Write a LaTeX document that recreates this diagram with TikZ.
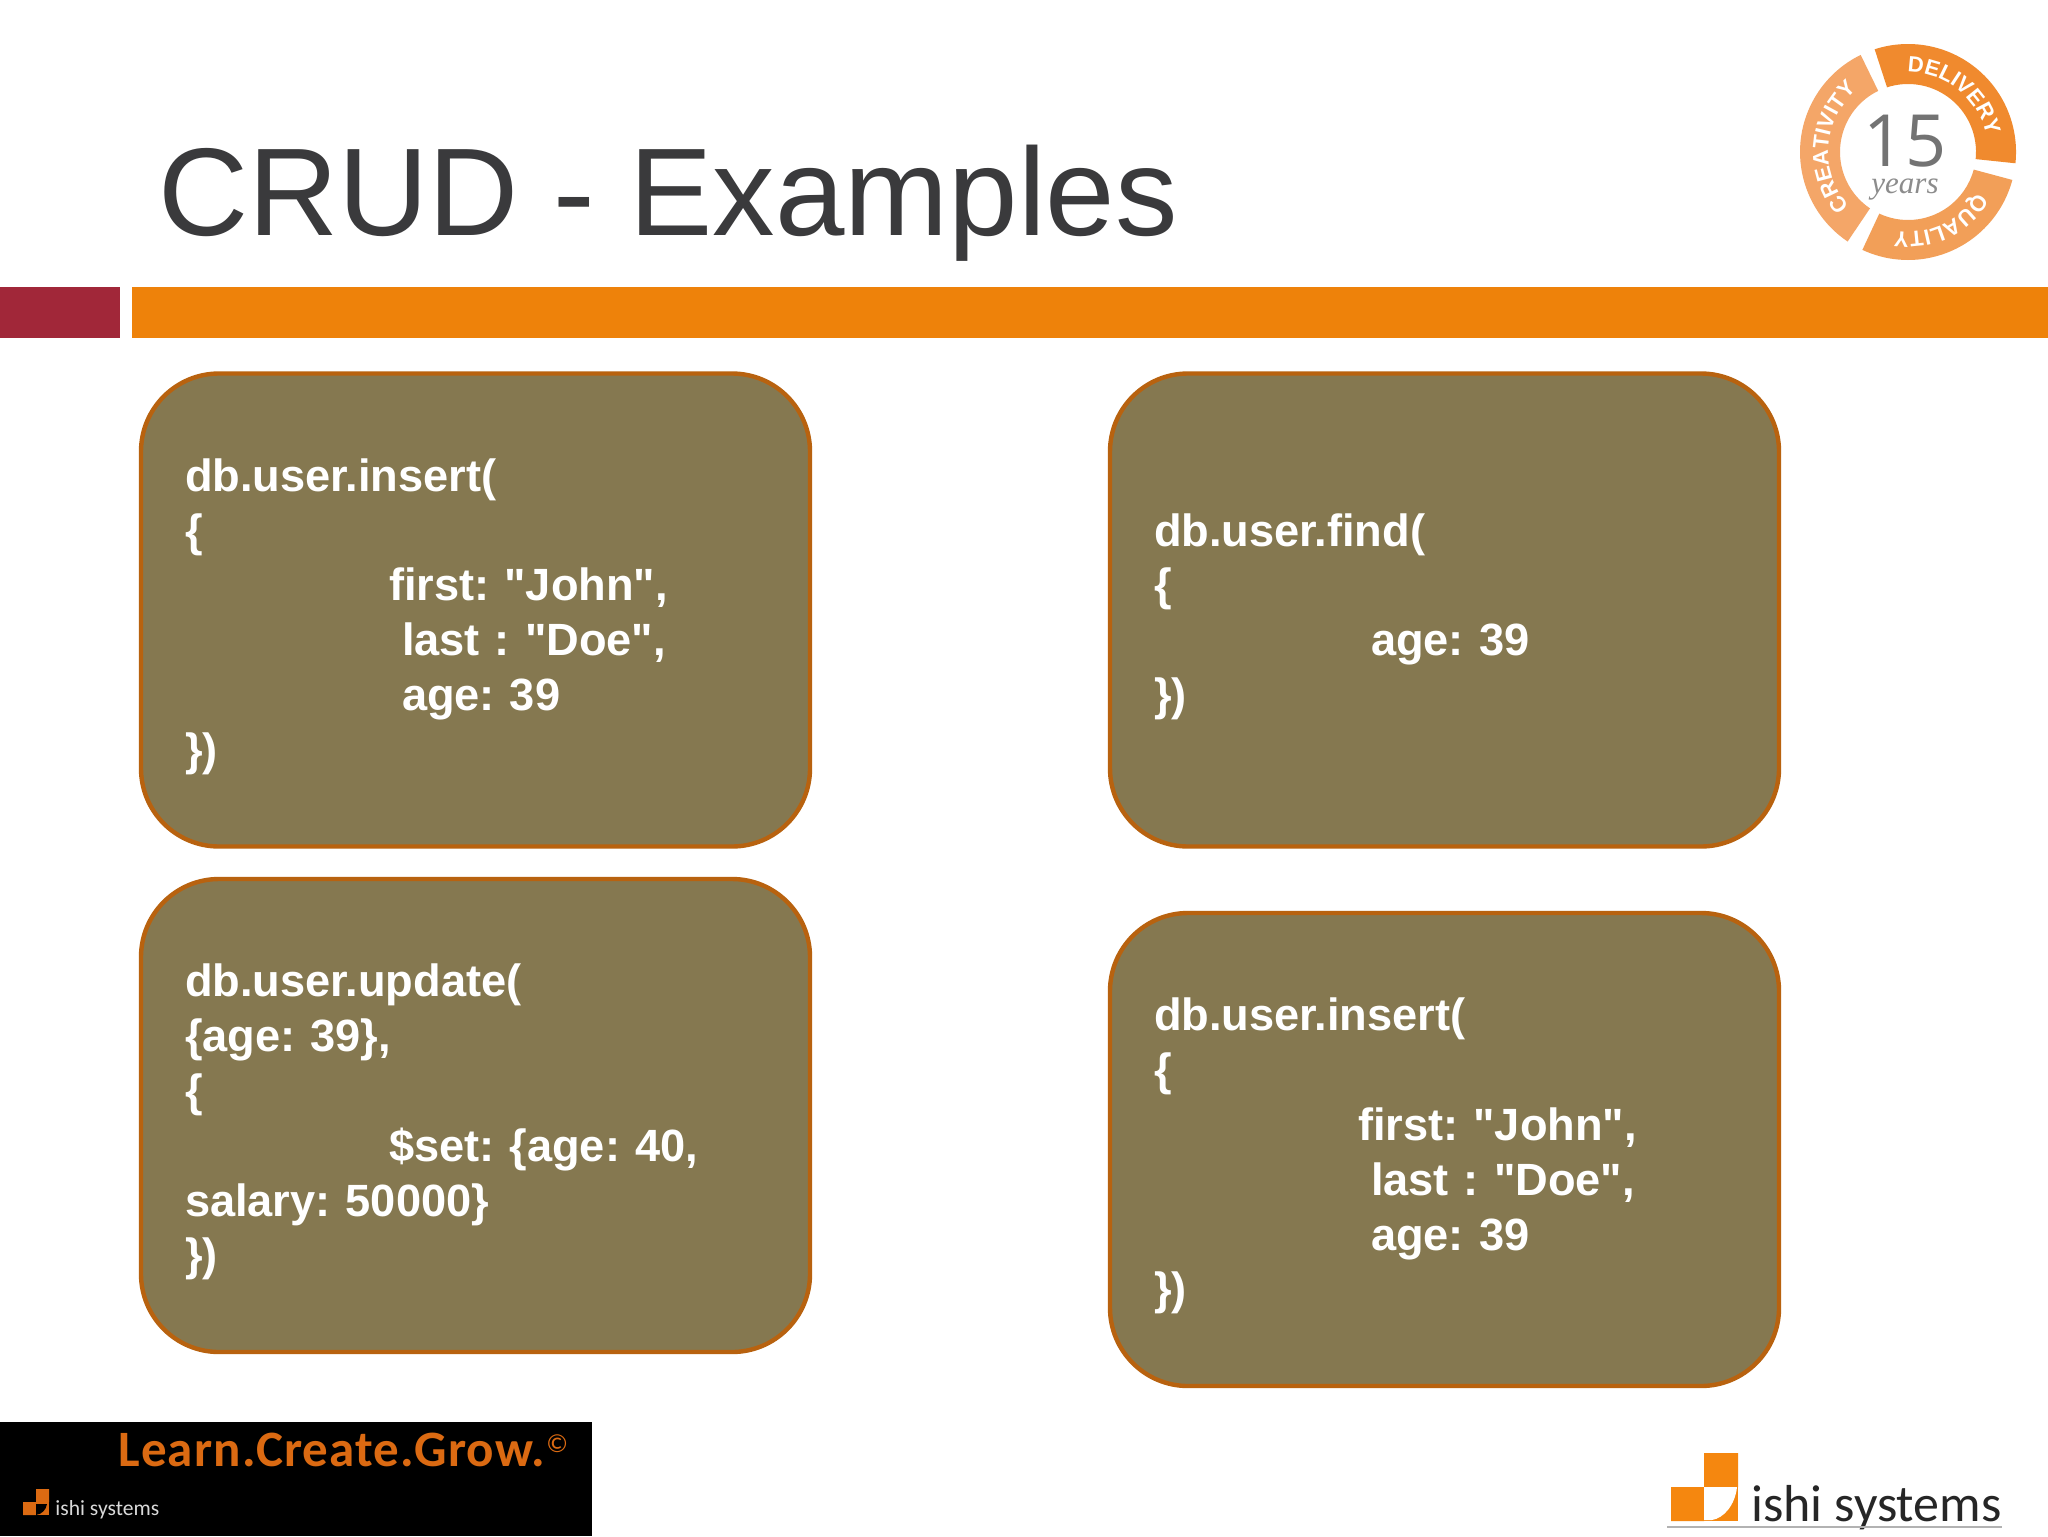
\documentclass[tikz,border=0pt]{standalone}
\usepackage{fontspec}
\usetikzlibrary{decorations.text}
\setmainfont{Liberation Sans}
\newfontfamily\codefont{Liberation Sans}
\newfontfamily\logofont{Carlito}
\newfontfamily\tagfont[LetterSpace=2.3]{Carlito}
\newfontfamily\badgefont{Liberation Sans}
\newfontfamily\numfont{Open Sans}
\newfontfamily\yearsfont{Liberation Serif}
\definecolor{slidetitle}{HTML}{3A3A3C}
\definecolor{barred}{HTML}{A12739}
\definecolor{barorange}{HTML}{EE820A}
\definecolor{boxfill}{HTML}{857850}
\definecolor{boxline}{HTML}{B8620F}
\definecolor{logoorange}{HTML}{F5870F}
\definecolor{tagorange}{HTML}{DB6A12}
\definecolor{badgeA}{HTML}{F08A2E}
\definecolor{badgeB}{HTML}{F29F58}
\definecolor{badgeC}{HTML}{F4A668}
\tikzset{
  codebox/.style={draw=boxline,fill=boxfill,line width=2.2pt,rounded corners=39pt,
    minimum width=334.5pt,minimum height=236.5pt,text width=290.5pt,inner xsep=22pt,inner ysep=0pt,
    outer sep=0pt,align=left,text=white,anchor=center,
    execute at begin node={\frenchspacing\rule{0pt}{23pt}\ignorespaces},
    font=\codefont\fontsize{22.6}{27.4}\selectfont\bfseries},
  badgetext/.style={decorate,decoration={text along path,text color=white,text align=center,
    text={|\badgefont\fontsize{11}{13}\selectfont\bfseries|#1}}}
}
\newcommand{\tabA}{\hspace*{102pt}}
\newcommand{\tabB}{\hspace*{108.5pt}}
\begin{document}
\begin{tikzpicture}[x=0.5pt,y=-0.5pt]
\useasboundingbox (0,0) rectangle (2048,1536);
\fill[white] (0,0) rectangle (2048,1536);
% title
\node[anchor=base west,inner sep=0pt,text=slidetitle,font=\fontsize{62.4}{70}\selectfont] (title) at (158,235) {CRUD - Examples};
% bars
\fill[barred] (0,287) rectangle (120,338);
\fill[barorange] (132,287) rectangle (2048,338);
% code boxes
\node[codebox] (boxinsert) at (475.5,610) {db.user.insert(\\\{\\\tabA first: "John",\\\tabB last : "Doe",\\\tabB age: 39\\\})};
\node[codebox] (boxfind) at (1444.5,610) {db.user.find(\\\{\\\tabB age: 39\\\})};
\node[codebox] (boxupdate) at (475.5,1115.5) {db.user.update(\\\{age: 39\},\\\{\\\tabA \$set: \{age: 40,\\salary: 50000\}\\\})};
\node[codebox] (boxinserttwo) at (1444.5,1149.5) {db.user.insert(\\\{\\\tabA first: "John",\\\tabB last : "Doe",\\\tabB age: 39\\\})};
% badge
\begin{scope}[shift={(1908,152)},x=1pt,y=1pt]
  \fill[badgeA] (108:54) arc[start angle=108,end angle=-6,radius=54pt] -- (-6:34) arc[start angle=-6,end angle=108,radius=34pt] -- cycle;
  \fill[badgeB] (-15:54) arc[start angle=-15,end angle=-115,radius=54pt] -- (-115:34) arc[start angle=-115,end angle=-15,radius=34pt] -- cycle;
  \fill[badgeC] (236:54) arc[start angle=236,end angle=116,radius=54pt] -- (116:34) arc[start angle=116,end angle=236,radius=34pt] -- cycle;
  \path[badgetext={DELIVERY}] (105:40) arc[start angle=105,end angle=-3,radius=40pt];
  \path[badgetext={QUALITY}] (-18:40) arc[start angle=-18,end angle=-112,radius=40pt];
  \path[badgetext={CREATIVITY}] (233:40) arc[start angle=233,end angle=119,radius=40pt];
  \node[text=black!55,font=\numfont\fontsize{36}{40}\selectfont,inner sep=0pt] (fifteen) at (-1.5,5.5) {15};
  \node[text=black!45,font=\yearsfont\itshape\fontsize{15.5}{17}\selectfont,inner sep=0pt] (years) at (-1.5,-19) {years};
\end{scope}
% footer tag
\fill[black] (0,1422) rectangle (592,1536);
\node[anchor=base west,inner sep=0pt,text=tagorange,font=\tagfont\bfseries\fontsize{25.5}{30}\selectfont] (tagline) at (118,1466) {Learn.Create.Grow.};
\node[anchor=base west,inner sep=0pt,text=tagorange,font=\logofont\fontsize{13}{15}\selectfont] (copyr) at (546,1452) {©};
\fill[tagorange] (23,1502) rectangle (36,1515) (36,1489) rectangle (49,1502);
\fill[tagorange] (36,1502) rectangle (49,1515);
\fill[black] (36,1504) -- (47,1504) .. controls (46,1510) and (42,1514) .. (36,1515) -- cycle;
\node[anchor=base west,inner sep=0pt,text=white!85!black,font=\logofont\fontsize{10.8}{12}\selectfont] (smallname) at (55,1515) {ishi systems};
% right logo
\fill[logoorange] (1671,1487) rectangle (1704,1521) (1704,1453) rectangle (1738,1487);
\fill[logoorange] (1704,1487) rectangle (1738,1521);
\fill[white] (1704,1487) -- (1704,1520) -- (1712,1520) .. controls (1724,1518) and (1735,1505) .. (1737,1487) -- cycle;
\node[anchor=base west,inner sep=0pt,text=black!85,font=\logofont\fontsize{26}{30}\selectfont] (bigname) at (1751,1521) {ishi systems};
\draw[black!30,line width=0.8pt] (1667,1527) -- (2002,1527);
\end{tikzpicture}
\end{document}
